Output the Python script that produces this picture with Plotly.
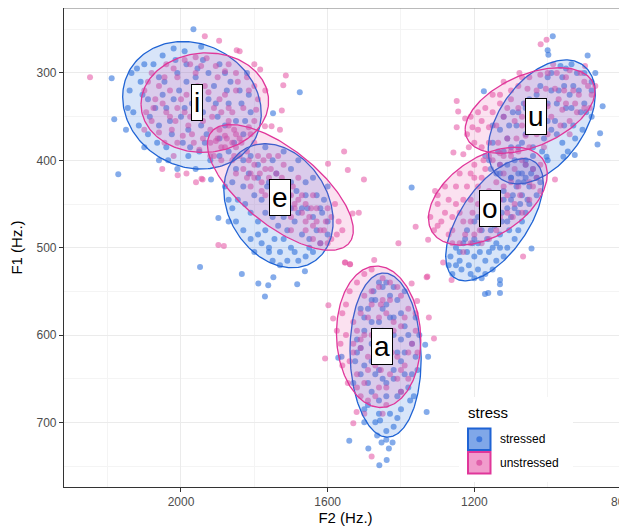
import numpy as np
import plotly.graph_objects as go

# ---------------- data ----------------
VOWELS = ["i", "e", "a", "o", "u"]
STRESS_LEVELS = ["stressed", "unstressed"]

# vowel label positions (F2, F1)
LABEL_F2 = [1956, 1730, 1451, 1156, 1033]
LABEL_F1 = [334, 443, 613, 455, 350]

# individual tokens (F2, F1) per vowel & stress
I_STRESSED = [(1966,250),(2189,306),(2182,353),(2171,416),(1676,322),(1918,422),(1749,346),
    (2100,290),(2050,280),(1990,275),(1940,285),(1880,300),(1840,320),(1810,345),(1830,370),(1870,390),
    (1920,400),(1980,395),(2040,385),(2090,370),(2130,345),(2140,320),(2110,310),(2060,305),(2010,300),
    (1960,305),(1910,315),(1870,335),(1880,360),(1930,370),(1980,365),(2030,355),(2070,340),(2020,330),
    (1970,335),(1940,345),(2000,350),(1960,320),(2090,330),(2060,360),(1900,350),(1850,355),(2120,295),
    (1995,380),(1950,390),(2150,365),(1820,300),(2010,410),(2060,400),
    (2135,300),(2105,325),(2075,290),(2045,310),(2015,285),(1985,290),(1955,295),(1925,300),(1895,290),
    (1865,310),(1835,335),(1815,325),(1825,355),(1855,380),(1895,375),(1905,335),(1945,360),(1990,340),
    (2040,340),(2085,350),(2115,360),(2100,385),(2065,380),(2025,370),(1975,385),(1935,380),(1895,395),
    (1960,410),(2035,400),(1925,330),(2005,320),(2050,325),(1875,320),(2145,340),(1985,310),(1945,270),
    (2020,272)]
I_UNSTRESSED = [(2248,305),(1935,258),(1896,263),(1848,274),(1840,275),(1784,296),(1714,303),(1721,314),
    (1725,343),(2051,410),(2009,417),(1985,415),(1959,425),(1941,422),
    (2080,300),(2040,290),(1990,285),(1930,283),(1870,290),(1820,305),(1790,330),(1800,355),(1840,375),
    (1890,385),(1950,388),(2010,380),(2060,368),(2095,345),(2100,320),(2060,315),(2010,305),(1960,300),
    (1900,305),(1850,320),(1830,340),(1870,355),(1920,365),(1980,360),(2030,350),(2050,335),(2000,330),
    (1950,330),(1910,340),(1960,345),(1880,325),(1935,315),(1990,345),(2030,320),(1860,345),(1915,350),
    (1970,370),(2080,355),(1800,315),(1850,300),(1920,395),(2020,395),
    (2090,310),(2070,330),(2045,305),(2020,295),(1975,290),(1945,292),(1905,292),(1880,298),(1845,310),
    (1815,320),(1795,342),(1815,362),(1855,365),(1880,372),(1905,378),(1940,375),(1965,380),(1995,372),
    (2025,365),(2045,380),(2075,340),(2040,345),(2010,340),(1985,325),(1955,315),(1925,322),(1895,330),
    (1870,340),(1890,345),(1940,355),(2015,355),(1975,350),(1850,385),(1770,320),(1800,290),(2100,365),
    (1960,282)]
E_STRESSED = [(1898,466),(1834,530),(1789,541),(1762,543),(1771,556),(1748,534),(1683,542),(1662,527),
    (1948,522),
    (1850,410),(1810,395),(1770,385),(1720,390),(1680,400),(1640,420),(1610,445),(1600,470),(1620,495),
    (1660,510),(1710,515),(1760,505),(1810,490),(1850,470),(1870,445),(1830,430),(1790,420),(1740,415),
    (1700,425),(1660,440),(1640,465),(1670,485),(1720,490),(1770,480),(1810,460),(1780,445),(1740,450),
    (1700,455),(1690,470),(1750,465),(1720,435),(1800,440),(1760,500),(1620,455),(1650,500),(1860,425),
    (1700,500),(1735,475),(1670,455),(1790,470),(1600,430),(1730,520),
    (1830,400),(1790,405),(1750,400),(1700,410),(1660,425),(1630,440),(1615,460),(1630,480),(1650,490),
    (1690,505),(1730,505),(1780,495),(1830,480),(1860,455),(1880,430),(1845,445),(1815,415),(1765,430),
    (1725,425),(1685,435),(1655,455),(1680,460),(1710,480),(1745,490),(1790,485),(1825,450),(1770,460),
    (1720,465),(1760,425),(1705,440),(1740,440),(1800,505),(1680,515),(1640,505),(1600,485),(1870,470),
    (1750,515)]
E_UNSTRESSED = [(1555,390),(1545,411),(1501,422),(1515,460),(1532,461),(1552,517),(1539,519),(1599,404),
    (1944,421),(1898,497),(1883,498),(1771,361),(1753,361),(1730,365),
    (1900,375),(1880,385),(1860,380),(1840,395),(1820,390),(1800,405),(1790,395),(1770,410),(1760,420),
    (1740,415),(1730,430),(1710,425),(1700,440),(1680,445),(1660,450),(1650,465),(1630,470),(1610,480),
    (1590,490),(1570,470),(1600,455),(1640,440),(1680,420),(1720,405),(1760,395),(1800,380),(1850,370),
    (1890,400),(1850,415),(1810,430),(1770,440),(1740,455),(1700,465),(1660,480),(1620,495),(1580,450),
    (1870,360),(1780,425),(1720,445),(1690,455),(1750,435),(1830,410),(1640,490),(1910,395),
    (1920,380),(1895,365),(1875,375),(1855,395),(1835,380),(1815,400),(1810,415),(1785,415),(1775,400),
    (1755,410),(1745,425),(1725,420),(1715,435),(1695,430),(1690,450),(1670,440),(1670,460),(1645,455),
    (1640,475),(1620,480),(1605,470),(1600,495),(1575,485),(1560,480),(1750,445),(1715,455),(1780,435),
    (1820,420),(1860,400),(1700,480),(1660,470),(1735,395),(1810,370),(1630,455),(1590,465),(1745,460),
    (1800,420)]
A_STRESSED = [(1541,721),(1489,730),(1453,723),(1423,723),(1433,730),(1439,743),(1459,749),(1330,688),
    (1334,611),(1326,625),(1365,670),(1457,698),(1571,626),(1562,625),
    (1460,540),(1420,545),(1480,560),(1440,565),(1400,575),(1500,580),(1460,585),(1380,600),(1420,600),
    (1520,605),(1480,610),(1440,615),(1360,625),(1400,630),(1500,635),(1460,640),(1530,655),(1420,650),
    (1380,660),(1480,665),(1440,670),(1400,685),(1460,690),(1500,700),(1420,705),(1440,710),(1470,595),
    (1410,620),(1450,650),(1490,680),(1370,645),(1510,570),(1350,600),(1430,580),(1470,625),(1390,550),
    (1440,540),(1520,620),(1400,665),(1465,715),(1360,580),
    (1450,545),(1475,550),(1430,555),(1410,560),(1490,570),(1450,570),(1420,580),(1480,585),(1390,590),
    (1450,595),(1500,595),(1430,605),(1370,610),(1460,610),(1510,615),(1390,620),(1430,630),(1480,630),
    (1450,625),(1420,640),(1470,645),(1510,645),(1390,645),(1440,655),(1490,655),(1410,670),(1460,675),
    (1500,685),(1430,690),(1470,700),(1440,720),(1410,695),(1375,675),(1525,630),(1355,640),(1470,560),
    (1400,605)]
A_UNSTRESSED = [(1553,517),(1539,519),(1473,514),(1598,566),(1585,581),(1607,627),(1330,534),(1324,580),
    (1310,604),(1530,701),(1521,688),(1480,739),(1371,541),(1356,561),
    (1500,530),(1450,535),(1410,545),(1540,550),(1480,550),(1430,560),(1380,570),(1560,575),(1510,575),
    (1460,580),(1400,590),(1550,600),(1500,600),(1440,600),(1370,610),(1530,620),(1470,620),(1410,625),
    (1560,635),(1490,640),(1430,645),(1380,650),(1520,660),(1460,660),(1400,665),(1490,675),(1440,680),
    (1470,605),(1420,585),(1520,595),(1360,595),(1455,640),(1510,615),(1390,635),(1480,565),(1545,655),
    (1425,620),
    (1480,525),(1430,540),(1520,540),(1460,545),(1400,555),(1500,555),(1450,560),(1550,565),(1390,580),
    (1440,575),(1490,580),(1530,585),(1420,595),(1460,600),(1510,605),(1565,610),(1380,620),(1450,615),
    (1490,625),(1540,630),(1400,640),(1470,635),(1520,645),(1440,660),(1500,655),(1410,650),(1470,670),
    (1510,670),(1450,690),(1355,620),(1575,595),(1360,575),(1430,615),(1480,600),(1530,610),(1455,565),
    (1500,690)]
O_STRESSED = [(1171,553),(1162,552),(1130,552),(1130,542),(1130,537),(1044,501),(1371,431),
    (1040,410),(1060,405),(1080,415),(1050,430),(1100,420),(1070,440),(1030,440),(1120,435),(1090,455),
    (1060,460),(1140,450),(1110,470),(1160,465),(1080,480),(1130,485),(1180,480),(1150,500),(1200,490),
    (1110,500),(1170,515),(1220,505),(1190,525),(1240,515),(1150,525),(1210,530),(1260,530),(1230,495),
    (1180,455),(1020,425),(1100,445),(1140,470),(1120,510),(1250,500),(1200,470),(1070,470),(1160,440),
    (1270,520),(1090,490),(1130,415),(1180,535),(1220,480),(1050,450),
    (1030,420),(1045,415),(1065,425),(1085,430),(1055,445),(1075,450),(1095,440),(1110,455),(1125,460),
    (1105,480),(1125,470),(1145,475),(1165,490),(1140,495),(1185,505),(1200,510),(1160,505),(1215,520),
    (1235,525),(1250,520),(1205,495),(1170,470),(1155,480),(1190,495),(1130,500),(1100,465),(1080,460),
    (1150,460),(1240,505),(1200,535),(1170,530),(1265,510),(1120,445),(1190,465),(1060,420),(1225,490),
    (1140,515)]
O_UNSTRESSED = [(1328,533),(1262,537),(1285,517),(1067,510),(1326,491),(980,422),(1257,391),(1230,393),
    (1307,435),(1360,476),(1407,495),
    (1100,395),(1150,400),(1200,405),(1060,405),(1240,415),(1180,420),(1120,415),(1030,420),(1280,430),
    (1220,430),(1160,435),(1080,430),(1300,450),(1250,450),(1190,450),(1130,445),(1050,445),(1290,470),
    (1230,470),(1170,465),(1110,460),(1270,485),(1200,485),(1140,480),(1240,495),(1180,495),(1310,480),
    (1020,435),(1090,450),(1210,445),(1260,465),(1150,455),(1120,430),(1200,420),(1070,460),(1320,465),
    (1040,410),(1070,400),(1090,410),(1130,405),(1170,410),(1210,415),(1050,425),(1100,425),(1140,425),
    (1190,430),(1250,430),(1270,445),(1230,445),(1160,445),(1110,440),(1075,440),(1040,430),(1205,460),
    (1240,460),(1280,460),(1180,460),(1150,470),(1210,470),(1260,480),(1300,475),(1185,480),(1225,485),
    (1160,490),(1210,495),(1260,495),(1130,465),(1095,465),(1300,440),(1020,405),(1120,395),(1175,400),
    (1230,505)]
U_STRESSED = [(986,258),(1000,274),(998,279),(891,280),(850,338),(857,369),(864,382),(926,394),(957,396),
    (1174,321),(1003,396),
    (920,300),(950,295),(990,300),(880,310),(930,315),(970,320),(1020,315),(900,335),(950,340),(1000,335),
    (1050,330),(880,350),(930,360),(980,355),(1030,350),(1080,345),(1120,350),(960,380),(1010,375),
    (1060,370),(1110,375),(1150,380),(1040,395),(1090,400),(1130,405),(1070,415),(1100,420),(940,325),
    (990,365),(1040,385),(1150,360),(1000,400),(1060,340),(910,345),(1010,345),(960,305),(1120,390),
    (1080,385),(1140,415),(1170,395),
    (900,300),(935,290),(965,292),(1000,305),(880,320),(915,320),(955,315),(990,320),(1030,325),(895,345),
    (935,340),(975,335),(1020,335),(1065,335),(1095,345),(925,375),(955,360),(1000,355),(1045,360),
    (1085,360),(1130,365),(975,370),(1025,365),(1070,380),(1100,385),(1135,390),(1060,400),(1110,405),
    (1080,425),(1160,400),(945,390),(1015,390),(905,365),(1105,360),(1155,410),(870,300),(1045,345)]
U_UNSTRESSED = [(1019,267),(1003,262),(898,292),(1248,332),(1244,344),(1248,362),(1077,300),
    (900,310),(950,305),(1000,300),(1050,305),(880,325),(930,320),(980,318),(1030,320),(1080,315),
    (1130,325),(900,340),(950,335),(1000,338),(1060,335),(1110,340),(1170,340),(1210,350),(940,355),
    (990,350),(1040,352),(1090,355),(1140,360),(1190,365),(1000,370),(1060,372),(1110,375),(1160,380),
    (1220,370),(1080,390),(1130,392),(920,345),(1020,345),(1070,360),(1180,355),(970,330),(1050,385),
    (1100,330),(1150,345),(1200,380),(870,315),
    (910,300),(940,297),(975,300),(1020,302),(1070,305),(890,315),(915,325),(955,320),(1005,318),
    (1055,318),(1100,320),(1150,325),(885,340),(925,335),(960,342),(1030,335),(1080,340),(1130,335),
    (1190,345),(965,360),(1015,358),(1070,350),(1120,350),(1160,362),(1205,362),(1030,370),(1085,375),
    (1135,380),(1180,385),(1100,390),(1160,395),(1215,385),(1010,385),(940,370),(1225,352),(1120,310),
    (985,290)]

TOKENS = {
    ("i", "stressed"): I_STRESSED, ("i", "unstressed"): I_UNSTRESSED,
    ("e", "stressed"): E_STRESSED, ("e", "unstressed"): E_UNSTRESSED,
    ("a", "stressed"): A_STRESSED, ("a", "unstressed"): A_UNSTRESSED,
    ("o", "stressed"): O_STRESSED, ("o", "unstressed"): O_UNSTRESSED,
    ("u", "stressed"): U_STRESSED, ("u", "unstressed"): U_UNSTRESSED,
}

# 95% ellipse parameters (order follows VOWELS)
ELL_STRESSED_CX = [1970, 1734, 1442, 1145, 1016]
ELL_STRESSED_CY = [337, 452, 623, 468, 356]
ELL_STRESSED_RX = [189, 149, 97, 133, 146]
ELL_STRESSED_RY = [73, 71, 94, 70, 71]
ELL_STRESSED_RHO = [-0.13, -0.25, -0.05, 0.6, 0.45]

ELL_UNSTRESSED_CX = [1935, 1729, 1461, 1163, 1048]
ELL_UNSTRESSED_CY = [334, 431, 602, 441, 343]
ELL_UNSTRESSED_RX = [174, 199, 115, 162, 177]
ELL_UNSTRESSED_RY = [57, 72, 81, 56, 49]
ELL_UNSTRESSED_RHO = [0.03, -0.68, -0.05, 0.45, 0.45]

X_TICKS = [2000, 1600, 1200, 800]
Y_TICKS = [300, 400, 500, 600, 700]
LEGEND_TITLE = "stress"

# ---------------- style ----------------
LINE_COL = {"stressed": "#1f63d4", "unstressed": "#e0369a"}
FILL_COL = {"stressed": "rgba(40,110,220,0.18)", "unstressed": "rgba(228,70,160,0.16)"}
PT_COL = {"stressed": "rgba(50,115,220,0.6)", "unstressed": "rgba(228,80,162,0.55)"}
KEY_FILL = {"stressed": "rgba(60,120,220,0.65)", "unstressed": "rgba(232,90,170,0.6)"}
KEY_DOT = {"stressed": "#3f78dc", "unstressed": "#e060aa"}
FONT = "Liberation Sans, Arial, sans-serif"

# figure geometry: the page body adds an 8px offset, so the figure is sized
# to fill the 627x531 window from (8, 8)
OFF = 8
W, H = 627 - OFF, 531 - OFF
ML, MR, MT, MB = 64 - OFF, 0, 0, 531 - 487
PW, PH = W - ML - MR, H - MT - MB


def px(xp):
    """window pixel x -> paper coordinate"""
    return (xp - OFF - ML) / PW


def py(yp):
    """window pixel y -> paper coordinate"""
    return (H - MB - (yp - OFF)) / PH


fig = go.Figure()

for s in STRESS_LEVELS:
    xs, ys = [], []
    for v in VOWELS:
        pts = TOKENS[(v, s)]
        xs += [p[0] for p in pts]
        ys += [p[1] for p in pts]
    fig.add_trace(go.Scatter(x=xs, y=ys, mode="markers", showlegend=False, name=s,
                             hoverinfo="skip",
                             marker=dict(size=6, color=PT_COL[s], line=dict(width=0))))

t = np.linspace(0, 2 * np.pi, 241)
for s, CX, CY, RX, RY, RHO in [
    ("stressed", ELL_STRESSED_CX, ELL_STRESSED_CY, ELL_STRESSED_RX, ELL_STRESSED_RY, ELL_STRESSED_RHO),
    ("unstressed", ELL_UNSTRESSED_CX, ELL_UNSTRESSED_CY, ELL_UNSTRESSED_RX, ELL_UNSTRESSED_RY, ELL_UNSTRESSED_RHO),
]:
    for k, v in enumerate(VOWELS):
        phi = np.arccos(RHO[k])
        ex = CX[k] + RX[k] * np.cos(t)
        ey = CY[k] + RY[k] * np.cos(t - phi)
        fig.add_trace(go.Scatter(x=ex, y=ey, mode="lines", fill="toself",
                                 fillcolor=FILL_COL[s], name=s, showlegend=False,
                                 hoverinfo="skip",
                                 line=dict(color=LINE_COL[s], width=1.3)))

for k, v in enumerate(VOWELS):
    fig.add_annotation(x=LABEL_F2[k], y=LABEL_F1[k], text=v, showarrow=False,
                       font=dict(family=FONT, size=28, color="black"),
                       bgcolor="white", bordercolor="black", borderwidth=1, borderpad=2)

# ---- legend (drawn as a key box in the lower-right of the panel) ----
fig.add_shape(type="rect", xref="paper", yref="paper", x0=px(459), x1=px(573), y0=py(482), y1=py(397),
              fillcolor="white", line=dict(width=0), layer="above")
fig.add_annotation(xref="paper", yref="paper", x=px(466), y=py(412), text=LEGEND_TITLE,
                   xanchor="left", yanchor="middle", showarrow=False,
                   font=dict(family=FONT, size=15, color="black"))
for j, s in enumerate(STRESS_LEVELS):
    top = 428 + j * 23.5
    fig.add_shape(type="rect", xref="paper", yref="paper", x0=px(468), x1=px(490.5),
                  y0=py(top + 22), y1=py(top + 0.5), fillcolor=KEY_FILL[s],
                  line=dict(color=LINE_COL[s], width=2), layer="above")
    cy = top + 11.3
    fig.add_shape(type="circle", xref="paper", yref="paper", x0=px(476.3), x1=px(482.3),
                  y0=py(cy + 3), y1=py(cy - 3), fillcolor=KEY_DOT[s],
                  line=dict(width=0), layer="above")
    fig.add_annotation(xref="paper", yref="paper", x=px(498), y=py(cy), text=s,
                       xanchor="left", yanchor="middle", showarrow=False,
                       font=dict(family=FONT, size=12, color="black"))

axis_common = dict(showgrid=True, gridcolor="#ebebeb", gridwidth=1, automargin=False,
                   showline=True, linecolor="#333333", linewidth=1.1, mirror=False,
                   ticks="outside", ticklen=4, tickcolor="#333333", zeroline=False,
                   ticklabeloverflow="allow",
                   tickfont=dict(family=FONT, size=12, color="#4d4d4d"))

fig.update_xaxes(range=[2319, 783.6], tickvals=X_TICKS, ticktext=[str(v) for v in X_TICKS],
                 title=dict(text="F2 (Hz.)", font=dict(family=FONT, size=15, color="black"), standoff=4),
                 minor=dict(showgrid=True, gridcolor="#f4f4f4", gridwidth=0.6,
                            tickvals=[2200, 1800, 1400, 1000], ticks=""),
                 **axis_common)
fig.update_yaxes(range=[774, 225.6], tickvals=Y_TICKS, ticktext=[str(v) for v in Y_TICKS],
                 title=dict(text="F1 (Hz.)", font=dict(family=FONT, size=15, color="black"), standoff=10),
                 minor=dict(showgrid=True, gridcolor="#f4f4f4", gridwidth=0.6,
                            tickvals=[250, 350, 450, 550, 650, 750], ticks=""),
                 **axis_common)

fig.add_shape(type="line", xref="paper", yref="paper", x0=0, x1=1, y0=1, y1=1,
              line=dict(color="#777777", width=1))

fig.update_layout(
    width=W, height=H,
    margin=dict(l=ML, r=MR, t=MT, b=MB, autoexpand=False),
    plot_bgcolor="white", paper_bgcolor="white",
    font=dict(family=FONT),
    showlegend=False,
)

fig.write_html("out.html")
